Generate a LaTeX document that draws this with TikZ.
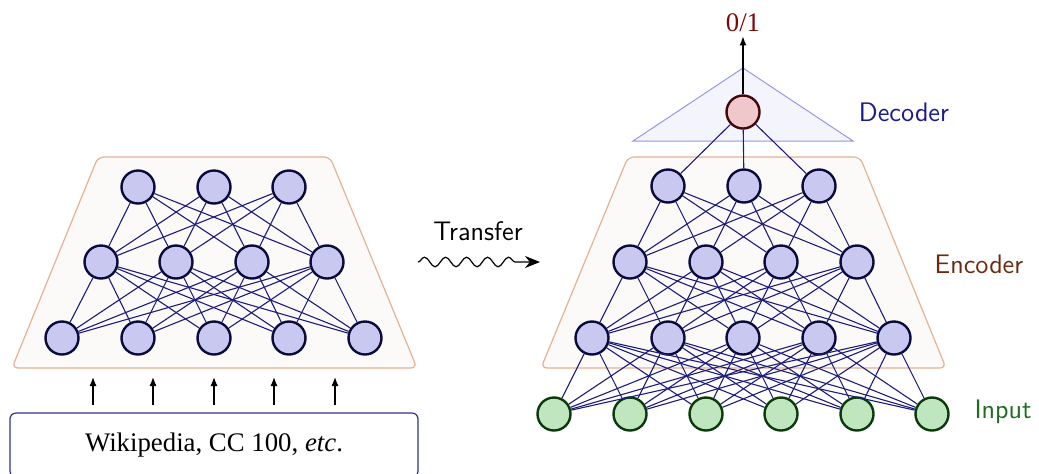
\documentclass[tikz,border=0pt]{standalone}
\usepackage{fontspec}
\newfontfamily\timesf{Liberation Serif}
\usetikzlibrary{decorations.pathmorphing,arrows.meta}
\definecolor{trapfill}{RGB}{252,250,249}
\definecolor{trapdraw}{RGB}{226,178,148}
\definecolor{trifill}{RGB}{244,244,253}
\definecolor{tridraw}{RGB}{150,150,235}
\definecolor{edgec}{RGB}{28,28,125}
\definecolor{encfill}{RGB}{200,200,240}
\definecolor{encdraw}{RGB}{10,10,60}
\definecolor{inpfill}{RGB}{192,230,192}
\definecolor{inpdraw}{RGB}{10,58,10}
\definecolor{decfill}{RGB}{240,200,204}
\definecolor{decdraw}{RGB}{64,8,8}
\definecolor{dectext}{RGB}{26,26,138}
\definecolor{enctext}{RGB}{107,42,16}
\definecolor{inptext}{RGB}{30,110,30}
\definecolor{outtext}{RGB}{122,10,10}
\definecolor{boxdraw}{RGB}{48,48,144}
\begin{document}
\begin{tikzpicture}[x=0.5pt,y=-0.5pt,
  neuron/.style={circle,minimum size=16.5pt,inner sep=0pt,line width=1.2pt},
  enc/.style={neuron,fill=encfill,draw=encdraw},
  inp/.style={neuron,fill=inpfill,draw=inpdraw},
  dec/.style={neuron,fill=decfill,draw=decdraw},
  edge/.style={draw=edgec,line width=0.55pt},
  trap/.style={fill=trapfill,draw=trapdraw,line width=0.6pt,rounded corners=3pt},
  dectri/.style={fill=trifill,draw=tridraw,line width=0.5pt},
  uparr/.style={-{Latex[length=4.5pt,width=3.5pt]},line width=0.6pt},
  lab/.style={font=\sffamily\fontsize{13.4}{16}\selectfont}
]
\useasboundingbox (0,0) rectangle (1039,473);

% ---------- Left network ----------
\draw[trap] (98,157) -- (330,157) -- (417,368) -- (12,368) -- cycle;
\foreach \x [count=\i] in {138,214,289} \node[enc] (LA\i) at (\x,187) {};
\foreach \x [count=\i] in {101,176,252,327} \node[enc] (LB\i) at (\x,262) {};
\foreach \x [count=\i] in {62,138,214,289,365} \node[enc] (LC\i) at (\x,338) {};
\foreach \i in {1,...,3} \foreach \j in {1,...,4} \draw[edge] (LA\i) -- (LB\j);
\foreach \i in {1,...,4} \foreach \j in {1,...,5} \draw[edge] (LB\i) -- (LC\j);

\node[draw=boxdraw,line width=0.6pt,rounded corners=3pt,minimum width=204pt,minimum height=32pt,
      font=\timesf\fontsize{13.4}{16}\selectfont] (W) at (214,445) {Wikipedia, CC 100, \textit{etc}.};
\foreach \x [count=\i] in {93,153,214,274,335} {
  \coordinate (AS\i) at (\x,405);
  \coordinate (AE\i) at (\x,377);
  \draw[uparr] (AS\i) -- (AE\i);
}

% ---------- Transfer ----------
\node[lab] (T) at (478,231) {Transfer};
\coordinate (TS) at (418,262);
\coordinate (TE) at (540,262);
\draw[decorate,decoration={snake,amplitude=2.4pt,segment length=10.5pt,post length=10pt},
      -{Stealth[length=7.5pt,width=6pt]},line width=0.6pt] (TS) -- (TE);

% ---------- Right network ----------
\draw[trap] (628,157) -- (860,157) -- (946,368) -- (541,368) -- cycle;
\draw[dectri] (743,68) -- (853,141) -- (633,141) -- cycle;
\node[dec] (D) at (743,112) {};
\foreach \x [count=\i] in {668,744,819} \node[enc] (RA\i) at (\x,186) {};
\foreach \x [count=\i] in {630,706,781,857} \node[enc] (RB\i) at (\x,262) {};
\foreach \x [count=\i] in {592,668,743,819,894} \node[enc] (RC\i) at (\x,338) {};
\foreach \x [count=\i] in {554,630,706,781,857,932} \node[inp] (RI\i) at (\x,414) {};
\foreach \i in {1,...,3} \draw[edge] (D) -- (RA\i);
\foreach \i in {1,...,3} \foreach \j in {1,...,4} \draw[edge] (RA\i) -- (RB\j);
\foreach \i in {1,...,4} \foreach \j in {1,...,5} \draw[edge] (RB\i) -- (RC\j);
\foreach \i in {1,...,5} \foreach \j in {1,...,6} \draw[edge] (RC\i) -- (RI\j);

\node[text=outtext,font=\timesf\fontsize{13.4}{16}\selectfont,inner sep=2pt] (O) at (743,23) {0/1};
\draw[uparr] (D.north) -- (O.south);

\node[lab,text=dectext] (DL) at (904,112) {Decoder};
\node[lab,text=enctext] (EL) at (979,264) {Encoder};
\node[lab,text=inptext] (IL) at (1003,412) {Input};
\end{tikzpicture}
\end{document}
